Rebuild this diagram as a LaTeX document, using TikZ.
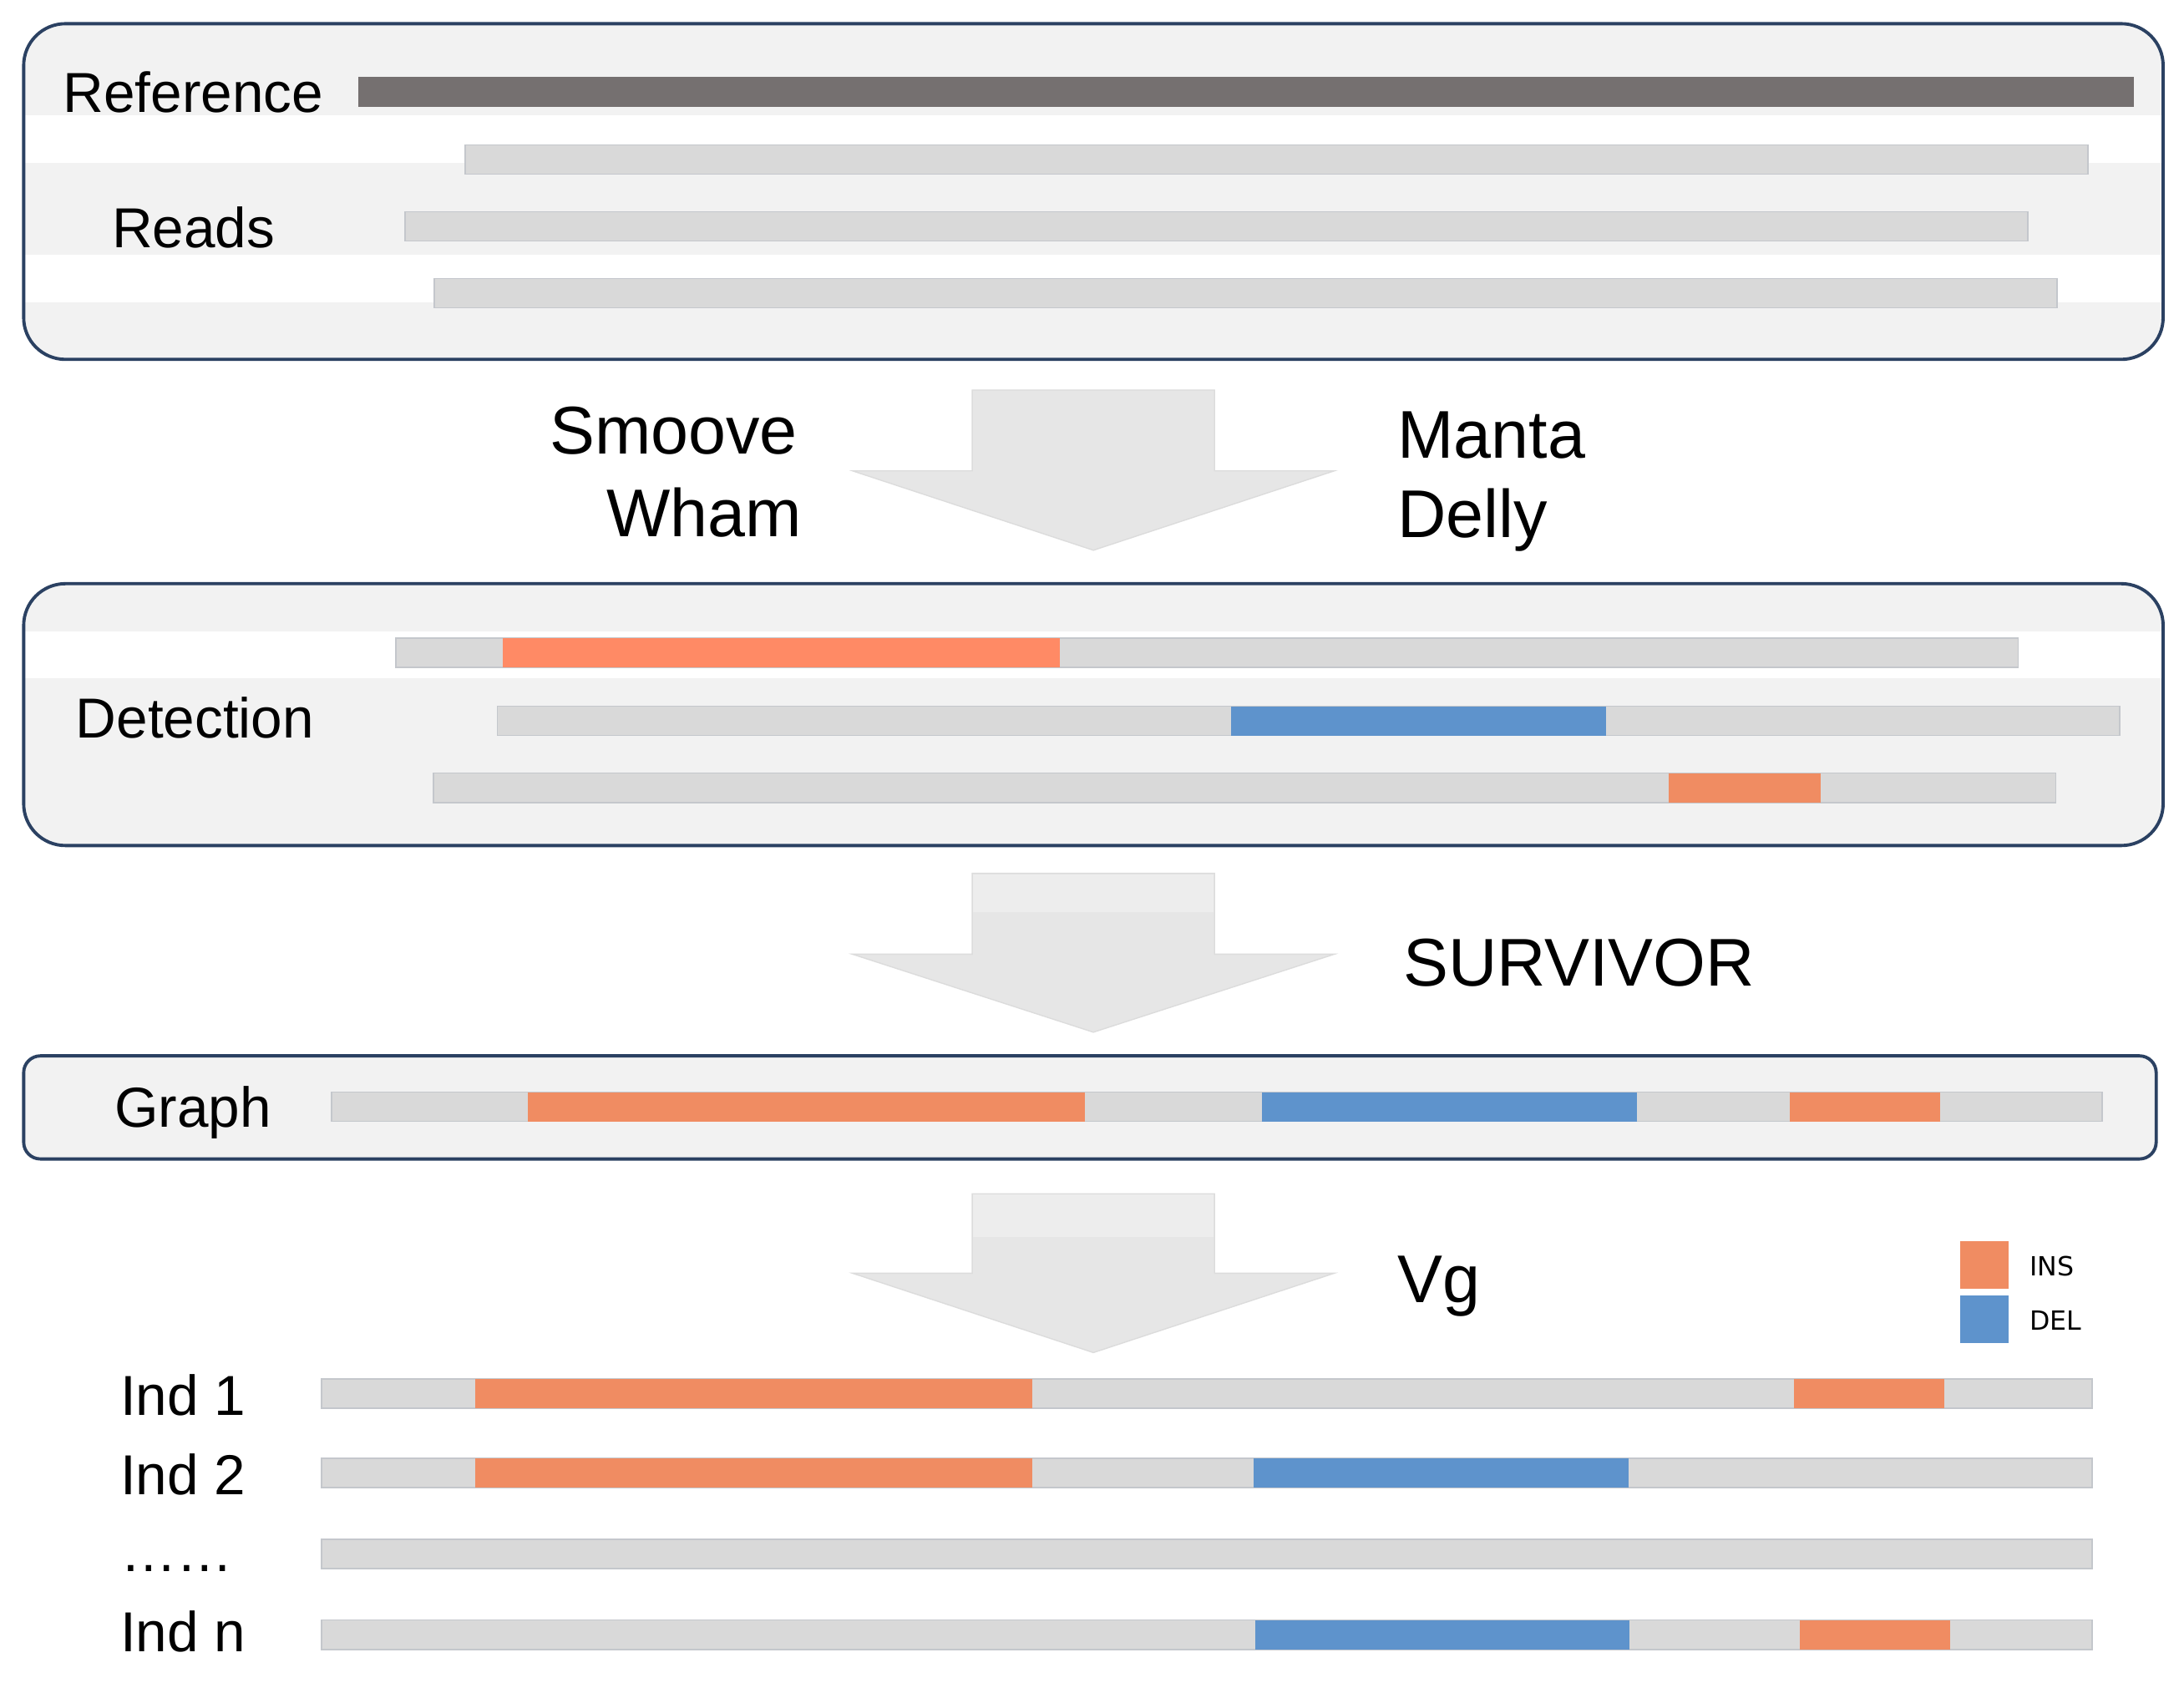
\documentclass[tikz,border=0pt]{standalone}
\usepackage{fontspec}
\setmainfont{Liberation Sans}
\newfontfamily\legendfont{DejaVu Sans}
\definecolor{panelfill}{HTML}{F2F2F2}
\definecolor{panelline}{HTML}{2B4162}
\definecolor{barfill}{HTML}{D9D9D9}
\definecolor{barline}{HTML}{C4C7CC}
\definecolor{refbar}{HTML}{757070}
\definecolor{insc}{HTML}{F08C62}
\definecolor{insbright}{HTML}{FF8A65}
\definecolor{delc}{HTML}{5E93CC}
\definecolor{arrowfill}{HTML}{E6E6E6}
\definecolor{arrowtop}{HTML}{EDEDED}
\definecolor{arrowline}{HTML}{DCDCDC}
\newcommand\mybar[3]{\draw[readbar] (#2,#1) rectangle (#3,#1+21);}
\newcommand\myseg[4]{\fill[#4] (#2,#1) rectangle (#3,#1+21);}
\begin{document}
\begin{tikzpicture}[x=0.016677cm,y=-0.016677cm,
  panel/.style={draw=panelline, line width=1.1pt},
  readbar/.style={fill=barfill, draw=barline, line width=0.5pt},
  lab/.style={anchor=base west, inner sep=0pt, font=\fontsize{19.2}{23}\selectfont},
  tool/.style={inner sep=0pt, font=\fontsize{23}{27}\selectfont},
  legend/.style={anchor=base west, inner sep=0pt, font=\legendfont\fontsize{9}{11}\selectfont},
  blockarrow/.style={fill=arrowfill, draw=arrowline, line width=0.4pt}]
\useasboundingbox (0,0) rectangle (1568,1208);
\fill[white] (0,0) rectangle (1568,1208);

% ---------- Panel 1: reference and reads
\begin{scope}
\clip[rounded corners=0.5cm] (17,17) rectangle (1553,258);
\fill[panelfill] (17,17) rectangle (1553,258);
\fill[white] (17,83) rectangle (1553,117);
\fill[white] (17,183) rectangle (1553,217);
\end{scope}
\draw[panel, rounded corners=0.5cm] (17,17) rectangle (1553,258);
\fill[refbar] (257,55) rectangle (1532,77);
\mybar{104}{334}{1499}
\mybar{152}{291}{1456}
\mybar{200}{312}{1477}
\node[lab] (reference) at (45,80.5) {Reference};
\node[lab] (reads) at (80,178) {Reads};

% ---------- Arrow 1
\draw[blockarrow] (698,280) -- (872,280) -- (872,338) -- (958,338) -- (785,395) -- (612,338) -- (698,338) -- cycle;
\node[tool, anchor=base east] (smoove) at (573,326) {Smoove};
\node[tool, anchor=base east] (wham) at (576,385) {Wham};
\node[tool, anchor=base west] (manta) at (1003,329) {Manta};
\node[tool, anchor=base west] (delly) at (1003,386) {Delly};

% ---------- Panel 2: detection
\begin{scope}
\clip[rounded corners=0.5cm] (17,419) rectangle (1553,607);
\fill[panelfill] (17,419) rectangle (1553,607);
\fill[white] (17,453) rectangle (1553,487);
\end{scope}
\draw[panel, rounded corners=0.5cm] (17,419) rectangle (1553,607);
\mybar{458}{284}{1449}
\myseg{458}{361}{761}{insbright}
\mybar{507}{357}{1522}
\myseg{507}{884}{1153}{delc}
\mybar{555}{311}{1476}
\myseg{555}{1198}{1307}{insc}
\node[lab] (detection) at (54,530) {Detection};

% ---------- Arrow 2
\draw[blockarrow] (698,627) -- (872,627) -- (872,685) -- (958,685) -- (785,741) -- (612,685) -- (698,685) -- cycle;
\fill[arrowtop] (698.5,627.5) rectangle (871.5,655);
\node[tool, anchor=base west] (survivor) at (1007,708) {SURVIVOR};

% ---------- Panel 3: graph
\draw[panel, fill=panelfill, rounded corners=0.2cm] (17,758) rectangle (1548,832);
\mybar{784}{238}{1509}
\myseg{784}{379}{779}{insc}
\myseg{784}{906}{1175}{delc}
\myseg{784}{1285}{1393}{insc}
\node[lab] (graph) at (82,809) {Graph};

% ---------- Arrow 3
\draw[blockarrow] (698,857) -- (872,857) -- (872,914) -- (958,914) -- (785,971) -- (612,914) -- (698,914) -- cycle;
\fill[arrowtop] (698.5,857.5) rectangle (871.5,888);
\node[tool, anchor=base west] (vg) at (1003,935) {Vg};

% ---------- Legend
\fill[insc] (1407,891) rectangle (1442,925);
\fill[delc] (1407,930) rectangle (1442,964);
\node[legend] (ins) at (1457,916) {INS};
\node[legend] (del) at (1457,955) {DEL};

% ---------- Individuals
\mybar{990}{231}{1502}
\myseg{990}{341}{741}{insc}
\myseg{990}{1288}{1396}{insc}
\mybar{1047}{231}{1502}
\myseg{1047}{341}{741}{insc}
\myseg{1047}{900}{1169}{delc}
\mybar{1105}{231}{1502}
\mybar{1163}{231}{1502}
\myseg{1163}{901}{1170}{delc}
\myseg{1163}{1292}{1400}{insc}
\node[lab] (ind1) at (86,1016) {Ind 1};
\node[lab] (ind2) at (86,1073) {Ind 2};
\node[lab] (dots) at (86,1128) {……};
\node[lab] (indn) at (86,1186) {Ind n};
\end{tikzpicture}
\end{document}
